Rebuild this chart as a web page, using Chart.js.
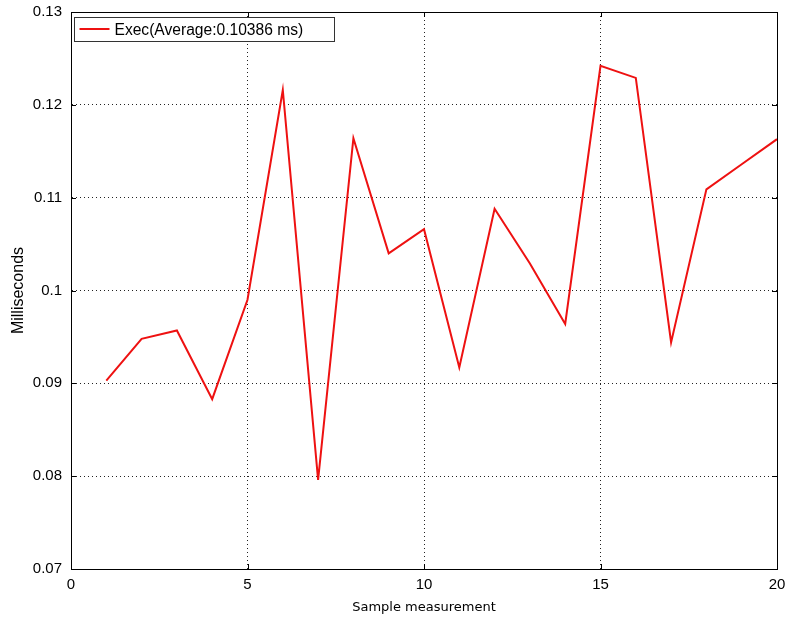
<!DOCTYPE html>
<html>
<head>
<meta charset="utf-8">
<script src="https://cdn.jsdelivr.net/npm/chart.js@4/dist/chart.umd.min.js"></script>
<style>
html,body{margin:0;padding:0;background:#fff;}
#wrap{width:787px;height:619px;}
</style>
</head>
<body>
<div id="wrap"><canvas id="c" width="787" height="619"></canvas></div>
<script>
const samples = [1,2,3,4,5,6,7,8,9,10,11,12,13,14,15,16,17,18,19,20];
const execMs = [0.0903,0.0948,0.0957,0.0883,0.0990,0.1216,0.0796,0.1164,0.1040,0.1066,
                0.0917,0.1088,0.1029,0.0964,0.1242,0.1229,0.0944,0.1109,0.1136,0.1163];
const seriesLabel = 'Exec(Average:0.10386 ms)';
const xTickValues = [0,5,10,15,20];
const yTickValues = [0.07,0.08,0.09,0.1,0.11,0.12,0.13];
const xTitle = 'Sample measurement';
const yTitle = 'Milliseconds';

const FONT = '"Liberation Sans", Arial, sans-serif';
const FONT2 = '"DejaVu Sans", sans-serif';

const framePlugin = {
  id: 'frame',
  afterDraw(chart) {
    const {ctx, chartArea: a, scales} = chart;
    ctx.save();
    ctx.strokeStyle = '#000';
    ctx.lineWidth = 1;
    ctx.setLineDash([]);
    ctx.strokeRect(Math.round(a.left)+0.5, Math.round(a.top)+0.5, Math.round(a.right-a.left), Math.round(a.bottom-a.top));
    const tl = 5;
    ctx.beginPath();
    scales.x.ticks.forEach(t => {
      const px = Math.round(scales.x.getPixelForValue(t.value)) + 0.5;
      ctx.moveTo(px, a.bottom); ctx.lineTo(px, a.bottom - tl);
      ctx.moveTo(px, a.top); ctx.lineTo(px, a.top + tl);
    });
    scales.y.ticks.forEach(t => {
      const py = Math.round(scales.y.getPixelForValue(t.value)) + 0.5;
      ctx.moveTo(a.left, py); ctx.lineTo(a.left + tl, py);
      ctx.moveTo(a.right, py); ctx.lineTo(a.right - tl, py);
    });
    ctx.stroke();
    const ds = chart.data.datasets[0];
    const bx = Math.round(a.left) + 3.5, by = Math.round(a.top) + 5.5;
    const bw = 260, bh = 24;
    ctx.fillStyle = '#fff';
    ctx.fillRect(bx, by, bw, bh);
    ctx.strokeStyle = '#333';
    ctx.strokeRect(bx, by, bw, bh);
    ctx.strokeStyle = ds.borderColor;
    ctx.lineWidth = 2;
    ctx.beginPath();
    ctx.moveTo(bx + 5, by + 11.5); ctx.lineTo(bx + 35, by + 11.5);
    ctx.stroke();
    ctx.fillStyle = '#000';
    ctx.font = '15.6px ' + FONT;
    ctx.textBaseline = 'middle';
    ctx.textAlign = 'left';
    ctx.fillText(ds.label, bx + 40, by + 13);
    ctx.restore();
  }
};

new Chart(document.getElementById('c'), {
  type: 'line',
  data: {
    datasets: [{
      label: seriesLabel,
      data: samples.map((s, i) => ({x: s, y: execMs[i]})),
      borderColor: '#ee1111',
      borderWidth: 2,
      pointRadius: 0,
      tension: 0,
      fill: false
    }]
  },
  options: {
    responsive: false,
    animation: false,
    layout: {padding: {top: 12, right: 10, left: 0, bottom: 0}},
    plugins: {legend: {display: false}, tooltip: {enabled: false}},
    scales: {
      x: {
        type: 'linear',
        min: 0, max: 20,
        afterBuildTicks(s) { s.ticks = xTickValues.map(v => ({value: v})); },
        afterFit(s) { s.height = 50; s.paddingRight = 0; s.paddingLeft = 0; },
        ticks: {color: '#000', font: {family: FONT, size: 15}, padding: 7},
        grid: {color: '#222', lineWidth: 1, drawTicks: false, tickLength: 0},
        border: {display: true, color: '#000', dash: [1, 3]},
        title: {display: true, text: xTitle, color: '#000', font: {family: FONT2, size: 13}, padding: {top: 2}}
      },
      y: {
        type: 'linear',
        min: 0.07, max: 0.13,
        afterBuildTicks(s) { s.ticks = yTickValues.map(v => ({value: v})); },
        afterFit(s) { s.width = 71; s.paddingTop = 0; s.paddingBottom = 0; },
        ticks: {color: '#000', font: {family: FONT, size: 15}, padding: 9,
                callback: v => String(Math.round(v * 100) / 100)},
        grid: {color: '#222', lineWidth: 1, drawTicks: false, tickLength: 0},
        border: {display: true, color: '#000', dash: [1, 3]},
        title: {display: true, text: yTitle, color: '#000', font: {family: FONT, size: 16}, padding: {top: 9, bottom: 4}}
      }
    }
  },
  plugins: [framePlugin]
});
</script>
</body>
</html>
